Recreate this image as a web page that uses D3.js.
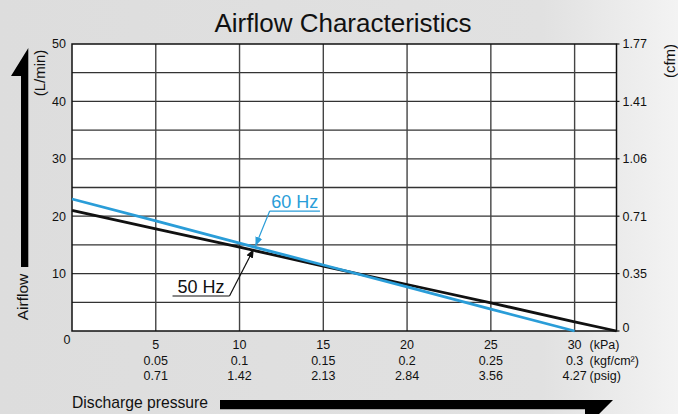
<!DOCTYPE html>
<html><head><meta charset="utf-8">
<script src="https://cdn.jsdelivr.net/npm/d3@7"></script>
<style>
html,body{margin:0;padding:0;}
svg{display:block;font-family:"Liberation Sans",Arial,Helvetica,sans-serif;}
</style></head>
<body><svg id="c" width="678" height="414"></svg>
<script>
// ---- data ----
const pressureKPa = [0, 5, 10, 15, 20, 25, 30, 32.5];
const flow50Hz = [21, 17.8, 14.6, 11.3, 8.1, 4.9, 1.6, 0];
const pressure60 = [0, 5, 10, 15, 20, 25, 30];
const flow60Hz = [23, 19.2, 15.3, 11.5, 7.7, 3.8, 0];
const xTicks = [5, 10, 15, 20, 25, 30];
const kgfLabels = ["0.05", "0.1", "0.15", "0.2", "0.25", "0.3"];
const psigLabels = ["0.71", "1.42", "2.13", "2.84", "3.56", "4.27"];
const yTicks = [10, 20, 30, 40, 50];
const cfmTicks = [0, 10, 20, 30, 40, 50];
const cfmLabels = ["0", "0.35", "0.71", "1.06", "1.41", "1.77"];
const unitLabels = ["(kPa)", "(kgf/cm²)", "(psig)"];
const seriesNames = ["50 Hz", "60 Hz"];
// annotation anchors in data units: [labelStartX, labelEndX, labelY, tipX, tipY]
const note50 = [6.0, 9.4, 6.1, 10.85, 14.3];
const note60 = [11.8, 14.8, 20.9, 10.95, 14.8];

const svg = d3.select("#c");
const W = 678, H = 414;
const m = {l: 72, r: 61.5, t: 44, b: 83};
const x = d3.scaleLinear().domain([0, 32.5]).range([m.l, W - m.r]);
const y = d3.scaleLinear().domain([0, 50]).range([H - m.b, m.t]);

// background
const defs = svg.append("defs");
const g0 = defs.append("linearGradient").attr("id","bg").attr("x1","0").attr("x2","1").attr("y1","0").attr("y2","0");
g0.append("stop").attr("offset","0%").attr("stop-color","#dddddd");
g0.append("stop").attr("offset","80%").attr("stop-color","#e1e1e1");
g0.append("stop").attr("offset","100%").attr("stop-color","#f3f3f3");
svg.append("rect").attr("width",W).attr("height",H).attr("fill","url(#bg)");

// plot area
svg.append("rect").attr("x",x(0)).attr("y",y(50)).attr("width",x(32.5)-x(0)).attr("height",y(0)-y(50)).attr("fill","#fff");

// grid
const gy = d3.range(5, 50, 5);
svg.append("g").selectAll("line").data(gy).join("line")
  .attr("x1",x(0)).attr("x2",x(32.5)).attr("y1",d=>y(d)).attr("y2",d=>y(d))
  .attr("stroke","#333").attr("stroke-width",1.3);
svg.append("g").selectAll("line").data(xTicks).join("line")
  .attr("y1",y(0)).attr("y2",y(50)).attr("x1",d=>x(d)).attr("x2",d=>x(d))
  .attr("stroke","#444").attr("stroke-width",1.4);
svg.append("rect").attr("x",x(0)).attr("y",y(50)).attr("width",x(32.5)-x(0)).attr("height",y(0)-y(50))
  .attr("fill","none").attr("stroke","#111").attr("stroke-width",1.5);
// right ticks
svg.append("g").selectAll("line").data(cfmTicks).join("line")
  .attr("x1",x(32.5)).attr("x2",x(32.5)+3).attr("y1",d=>y(d)).attr("y2",d=>y(d))
  .attr("stroke","#111").attr("stroke-width",1.2);

// lines
const line = d3.line().x(d=>x(d[0])).y(d=>y(d[1]));
svg.append("path").datum(pressureKPa.map((p,i)=>[p,flow50Hz[i]])).attr("d",line)
  .attr("fill","none").attr("stroke","#111").attr("stroke-width",2.8);
svg.append("path").datum(pressure60.map((p,i)=>[p,flow60Hz[i]])).attr("d",line)
  .attr("fill","none").attr("stroke","#2a9dd8").attr("stroke-width",2.8);

// tick labels
const fs = 12.5;
svg.append("g").selectAll("text").data(yTicks).join("text")
  .attr("x",x(0)-6).attr("y",d=>y(d)).attr("dy","0.35em").attr("text-anchor","end")
  .attr("font-size",fs).attr("fill","#111").text(d=>d);
svg.append("text").attr("x",x(0)-5).attr("y",y(0)+9).attr("dy","0.35em").attr("text-anchor","middle")
  .attr("font-size",fs).attr("fill","#111").text("0");
svg.append("g").selectAll("text").data(cfmTicks).join("text")
  .attr("x",x(32.5)+6).attr("y",(d,i)=>y(d)-(i===0?3:0)).attr("dy","0.35em").attr("text-anchor","start")
  .attr("font-size",fs).attr("fill","#111").text((d,i)=>cfmLabels[i]);
const rows = [xTicks.map(String), kgfLabels, psigLabels];
const rowY = [345, 360.5, 375.5];
rows.forEach((r,ri)=>{
  svg.append("g").selectAll("text").data(r).join("text")
    .attr("x",(d,i)=>x(xTicks[i])).attr("y",rowY[ri]).attr("dy","0.35em").attr("text-anchor","middle")
    .attr("font-size",fs).attr("fill","#111").text(d=>d);
  svg.append("text").attr("x",x(30)+15).attr("y",rowY[ri]).attr("dy","0.35em")
    .attr("font-size",fs).attr("fill","#111").text(unitLabels[ri]);
});

// unit labels rotated
svg.append("text").attr("transform",`translate(44.5,${73}) rotate(-90)`).attr("text-anchor","middle")
  .attr("font-size",15).attr("fill","#111").text("(L/min)");
svg.append("text").attr("transform",`translate(674.5,${61}) rotate(-90)`).attr("text-anchor","middle")
  .attr("font-size",15).attr("fill","#111").text("(cfm)");

// title
svg.append("text").attr("x",343).attr("y",32).attr("text-anchor","middle")
  .attr("font-size",26).attr("fill","#111").text("Airflow Characteristics");

// axis titles with arrows
svg.append("text").attr("transform","translate(27.5,297) rotate(-90)").attr("text-anchor","middle")
  .attr("font-size",15.5).attr("fill","#111").text("Airflow");
svg.append("path").attr("d","M21,267 L21,76 L11,76 L28.3,48 L28.3,267 Z").attr("fill","#000");
svg.append("text").attr("x",72).attr("y",408).attr("font-size",15.7).attr("fill","#111").text("Discharge pressure");
svg.append("path").attr("d","M220,400 L613,400 L585,428 L585,409.3 L220,409.3 Z").attr("fill","#000");

// annotations
defs.append("marker").attr("id","ab").attr("viewBox","0 0 10 10").attr("refX",10).attr("refY",5)
  .attr("markerWidth",9).attr("markerHeight",9).attr("markerUnits","userSpaceOnUse").attr("orient","auto")
  .append("path").attr("d","M0,1 L10,5 L0,9 Z").attr("fill","#2a9dd8");
defs.append("marker").attr("id","ak").attr("viewBox","0 0 10 10").attr("refX",10).attr("refY",5)
  .attr("markerWidth",9).attr("markerHeight",9).attr("markerUnits","userSpaceOnUse").attr("orient","auto")
  .append("path").attr("d","M0,1 L10,5 L0,9 Z").attr("fill","#111");

function note(n, label, color, marker, underAfterTextEnd){
  const [x0,x1,yv,tx,ty] = n;
  const yy = y(yv);
  svg.append("text").attr("x",(x(x0)+x(x1))/2).attr("y",yy-3).attr("text-anchor","middle")
    .attr("font-size",18).attr("fill",color).text(label);
  svg.append("line").attr("x1",x(x0)).attr("x2",x(x1)).attr("y1",yy).attr("y2",yy)
    .attr("stroke",color).attr("stroke-width",1.2);
  const sx = underAfterTextEnd ? x(x1) : x(x0);
  svg.append("line").attr("x1",sx).attr("y1",yy).attr("x2",x(tx)).attr("y2",y(ty))
    .attr("stroke",color).attr("stroke-width",1.2).attr("marker-end",`url(#${marker})`);
}
note(note60, seriesNames[1], "#2a9dd8", "ab", false);
note(note50, seriesNames[0], "#111", "ak", true);
</script></body></html>
